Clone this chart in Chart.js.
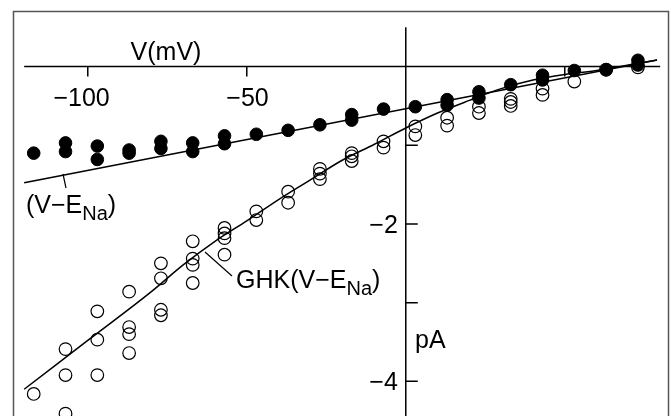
<!DOCTYPE html>
<html>
<head>
<meta charset="utf-8">
<script src="https://cdn.jsdelivr.net/npm/chart.js@4/dist/chart.umd.min.js"></script>
<style>
  body { margin: 0; background: #fff; }
  #wrap { width: 671px; height: 416px; position: relative; }
</style>
</head>
<body>
<div id="wrap"><canvas id="iv-chart"></canvas></div>
<script>
// membrane voltage (mV) for each measured point, current in pA
const filledV = [-117, -107, -107, -97, -97, -87, -87, -77, -77, -67, -67, -57, -57, -47, -37, -27, -17, -17, -7, 3, 13, 13, 23, 23, 33, 43, 43, 53, 63, 73, 73];
const filledI = [-1.10, -0.97, -1.08, -1.01, -1.18, -1.06, -1.10, -0.95, -1.04, -0.97, -1.08, -0.88, -0.98, -0.86, -0.81, -0.74, -0.61, -0.68, -0.54, -0.51, -0.42, -0.49, -0.32, -0.40, -0.23, -0.11, -0.17, -0.05, -0.04, 0.08, 0.02];

const openV = [-117, -107, -107, -107, -97, -97, -97, -87, -87, -87, -87, -77, -77, -77, -77, -67, -67, -67, -67, -57, -57, -57, -57, -47, -47, -37, -37, -27, -27, -27, -17, -17, -17, -7, -7, 3, 3, 13, 13, 23, 23, 33, 33, 33, 43, 43, 53, 63, 73];
const openI = [-4.16, -3.59, -3.92, -4.41, -3.11, -3.47, -3.92, -2.86, -3.31, -3.40, -3.64, -2.50, -2.69, -3.09, -3.16, -2.22, -2.44, -2.52, -2.75, -2.05, -2.12, -2.18, -2.39, -1.84, -1.95, -1.59, -1.73, -1.30, -1.36, -1.43, -1.10, -1.14, -1.20, -0.95, -1.03, -0.76, -0.87, -0.65, -0.75, -0.51, -0.59, -0.41, -0.45, -0.50, -0.28, -0.36, -0.19, -0.04, -0.01];

// fitted curves
const linV = [-120, 79];
const linI = [-1.475, 0.085];
const ghkV = [-120, -100, -80, -70, -60, -50, -40, -30, -20, -10, 0, 10, 20, 30, 40, 50, 60, 79];
const ghkI = [-4.10, -3.48, -2.86, -2.52, -2.22, -1.96, -1.69, -1.44, -1.19, -0.99, -0.78, -0.59, -0.43, -0.28, -0.17, -0.10, -0.05, 0.085];

const xTicks = [-100, -50, 50];
const xTickLabels = ['\u2212100', '\u221250', ''];
const yTicks = [-1, -2, -3, -4];
const yTickLabels = ['', '\u22122', '', '\u22124'];

const FONT = '"Liberation Sans", Arial, sans-serif';

function pts(xs, ys) {
    return xs.map((x, i) => ({ x: x, y: ys[i] }));
}

function labelWithSub(ctx, x, y, pre, sub, post) {
    ctx.font = '25px ' + FONT;
    ctx.textAlign = 'left';
    ctx.fillText(pre, x, y);
    x += ctx.measureText(pre).width;
    ctx.font = '20px ' + FONT;
    ctx.fillText(sub, x, y + 7);
    x += ctx.measureText(sub).width;
    ctx.font = '25px ' + FONT;
    ctx.fillText(post, x, y);
}

const axesPlugin = {
    id: 'axesPlugin',
    beforeDatasetsDraw(chart) {
        const ctx = chart.ctx;
        const xs = chart.scales.x;
        const ys = chart.scales.y;
        const x0 = xs.getPixelForValue(0);
        const y0 = ys.getPixelForValue(0);
        ctx.save();
        // frame
        ctx.strokeStyle = '#555';
        ctx.lineWidth = 1.5;
        ctx.strokeRect(13.5, 11.5, 655, 420);
        // axes
        ctx.strokeStyle = '#000';
        ctx.lineWidth = 1.5;
        ctx.beginPath();
        ctx.moveTo(xs.getPixelForValue(-120), y0);
        ctx.lineTo(xs.getPixelForValue(80), y0);
        ctx.moveTo(x0, ys.getPixelForValue(0.5));
        ctx.lineTo(x0, ys.getPixelForValue(-4.5));
        xTicks.forEach(v => {
            const px = xs.getPixelForValue(v);
            ctx.moveTo(px, y0);
            ctx.lineTo(px, y0 + 10);
        });
        yTicks.forEach(v => {
            const py = ys.getPixelForValue(v);
            ctx.moveTo(x0, py);
            ctx.lineTo(x0 + 12, py);
        });
        ctx.stroke();

        ctx.fillStyle = '#000';
        ctx.font = '25px ' + FONT;
        ctx.textAlign = 'right';
        ctx.textBaseline = 'alphabetic';
        xTicks.forEach((v, i) => {
            ctx.fillText(xTickLabels[i], xs.getPixelForValue(v) + 22, y0 + 39);
        });
        yTicks.forEach((v, i) => {
            ctx.fillText(yTickLabels[i], x0 - 8, ys.getPixelForValue(v) + 9);
        });
        ctx.textAlign = 'center';
        ctx.fillText('V(mV)', 166, 60);
        ctx.textAlign = 'left';
        ctx.fillText('pA', 415, 348);

        // curve labels with leader lines
        ctx.lineWidth = 1.2;
        ctx.beginPath();
        ctx.moveTo(63, 174);
        ctx.lineTo(66, 188);
        ctx.moveTo(205, 252);
        ctx.lineTo(232, 276);
        ctx.stroke();
        labelWithSub(ctx, 26, 213, '(V\u2212E', 'Na', ')');
        labelWithSub(ctx, 236, 288, 'GHK(V\u2212E', 'Na', ')');
        ctx.restore();
    }
};

const ctx = document.getElementById('iv-chart').getContext('2d');
new Chart(ctx, {
    type: 'scatter',
    data: {
        datasets: [
            {
                label: 'filled',
                data: pts(filledV, filledI),
                pointRadius: 6.3,
                pointBackgroundColor: '#000',
                pointBorderColor: '#000',
                pointBorderWidth: 1
            },
            {
                label: 'open',
                data: pts(openV, openI),
                pointRadius: 6.3,
                pointBackgroundColor: 'rgba(0,0,0,0)',
                pointBorderColor: '#000',
                pointBorderWidth: 1.2
            },
            {
                label: 'V-ENa',
                type: 'line',
                data: pts(linV, linI),
                borderColor: '#000',
                borderWidth: 1.5,
                pointRadius: 0,
                fill: false
            },
            {
                label: 'GHK',
                type: 'line',
                data: pts(ghkV, ghkI),
                borderColor: '#000',
                borderWidth: 1.5,
                pointRadius: 0,
                cubicInterpolationMode: 'monotone',
                fill: false
            }
        ]
    },
    options: {
        responsive: true,
        maintainAspectRatio: false,
        animation: false,
        layout: { padding: 0, autoPadding: false },
        plugins: { legend: { display: false }, tooltip: { enabled: false } },
        scales: {
            x: { type: 'linear', min: -127.6, max: 83.4, display: false },
            y: { type: 'linear', min: -4.44, max: 0.846, display: false }
        }
    },
    plugins: [axesPlugin]
});
</script>
</body>
</html>
